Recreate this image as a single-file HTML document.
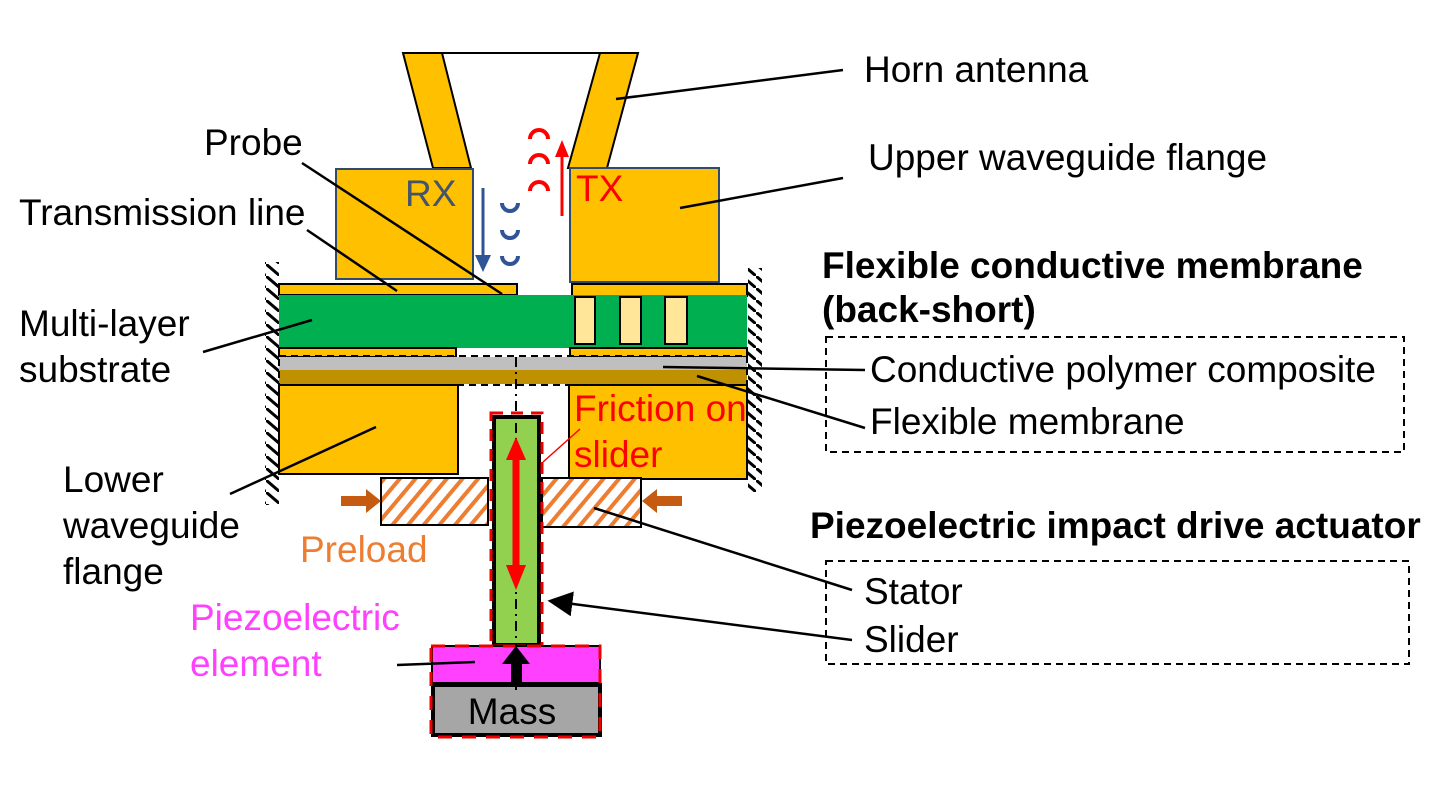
<!DOCTYPE html>
<html><head><meta charset="utf-8"><style>
html,body{margin:0;padding:0;background:#fff}
svg{display:block}
text{font-family:"Liberation Sans",Arial,sans-serif;font-size:37px}
</style></head><body>
<svg width="1440" height="810" viewBox="0 0 1440 810" xmlns="http://www.w3.org/2000/svg">
<defs>
<pattern id="wall" width="14" height="12" patternUnits="userSpaceOnUse">
<line x1="0" y1="0" x2="14" y2="12" stroke="#000" stroke-width="3"/>
</pattern>
<pattern id="hatch" width="12" height="12" patternUnits="userSpaceOnUse" patternTransform="rotate(40)">
<rect width="12" height="12" fill="#fff"/><rect width="4" height="12" fill="#ed7d31"/>
</pattern>
<marker id="ah" markerWidth="10" markerHeight="10" refX="9" refY="5" orient="auto"><path d="M0,0 L10,5 L0,10z" fill="#000"/></marker>
</defs>
<rect x="265" y="262" width="14" height="243" fill="url(#wall)"/>
<rect x="748" y="268" width="14" height="224" fill="url(#wall)"/>
<line x1="442" y1="53" x2="600" y2="53" stroke="#000" stroke-width="2"/>
<polygon points="403,53 442,53 471,168 433,168" fill="#ffc000" stroke="#000" stroke-width="2"/>
<polygon points="600,53 638,53 607,168 568,168" fill="#ffc000" stroke="#000" stroke-width="2"/>
<rect x="336" y="169" width="137" height="110" fill="#ffc000" stroke="#2f4a6d" stroke-width="2"/>
<rect x="570" y="168" width="149" height="114" fill="#ffc000" stroke="#2f4a6d" stroke-width="2"/>
<rect x="279" y="284" width="238" height="11" fill="#ffc000" stroke="#000" stroke-width="2"/>
<rect x="572" y="284" width="175" height="12" fill="#ffc000" stroke="#000" stroke-width="2"/>
<rect x="279" y="295" width="468" height="53" fill="#00b050"/>
<rect x="575" y="297" width="20" height="47" fill="#ffe699" stroke="#000" stroke-width="2"/>
<rect x="620" y="297" width="21" height="47" fill="#ffe699" stroke="#000" stroke-width="2"/>
<rect x="665" y="297" width="22" height="47" fill="#ffe699" stroke="#000" stroke-width="2"/>
<rect x="279" y="348" width="177" height="9" fill="#ffc000" stroke="#000" stroke-width="2"/>
<rect x="570" y="348" width="177" height="9" fill="#ffc000" stroke="#000" stroke-width="2"/>
<rect x="279" y="357" width="468" height="13" fill="#bfbfbf"/>
<rect x="279" y="370" width="468" height="14" fill="#bf9000"/>
<rect x="279" y="356" width="468" height="29" fill="none" stroke="#000" stroke-width="2" stroke-dasharray="7,5"/>
<rect x="279" y="385" width="179" height="89" fill="#ffc000" stroke="#000" stroke-width="2"/>
<rect x="569" y="385" width="178" height="94" fill="#ffc000" stroke="#000" stroke-width="2"/>
<rect x="381" y="478" width="107" height="47" fill="url(#hatch)" stroke="#000" stroke-width="2"/>
<rect x="542" y="478" width="99" height="49" fill="url(#hatch)" stroke="#000" stroke-width="2"/>
<polygon points="341,496 366,496 366,489 381,501 366,513 366,506 341,506" fill="#c55a11"/>
<polygon points="682,496 657,496 657,489 642,501 657,513 657,506 682,506" fill="#c55a11"/>
<rect x="494" y="417" width="45" height="228" fill="#92d050" stroke="#000" stroke-width="4"/>
<rect x="491" y="413" width="51" height="233" fill="none" stroke="#e00" stroke-width="3" stroke-dasharray="12,8"/>
<rect x="432" y="646" width="168" height="37" fill="#ff40ff" stroke="#000" stroke-width="2"/>
<rect x="433" y="685" width="167" height="50" fill="#a6a6a6" stroke="#000" stroke-width="4"/>
<path d="M431,646 H600 V737 H431 Z" fill="none" stroke="#e00" stroke-width="3" stroke-dasharray="14,10"/>
<line x1="516" y1="357" x2="516" y2="690" stroke="#000" stroke-width="2" stroke-dasharray="10,5,2,5"/>
<line x1="516" y1="455" x2="516" y2="575" stroke="#f00" stroke-width="7"/>
<polygon points="516,437 526,460 506,460" fill="#f00"/>
<polygon points="516,590 526,565 506,565" fill="#f00"/>
<rect x="511" y="662" width="11" height="22" fill="#000"/>
<polygon points="516,646 530,664 502,664" fill="#000"/>
<line x1="483" y1="188" x2="483" y2="256" stroke="#2f5597" stroke-width="3"/>
<polygon points="475,255 491,255 483,272" fill="#2f5597"/>
<line x1="562" y1="216" x2="562" y2="155" stroke="#f00" stroke-width="3"/>
<polygon points="555,157 569,157 562,140" fill="#f00"/>
<g fill="none" stroke="#2f5597" stroke-width="4">
<path d="M502,203 a8,8 0 0 0 16,0"/><path d="M502,230 a8,8 0 0 0 16,0"/><path d="M502,256 a8,8 0 0 0 16,0"/>
</g>
<g fill="none" stroke="#f00" stroke-width="4">
<path d="M530,139 a9,9 0 0 1 18,0"/><path d="M530,164 a9,9 0 0 1 18,0"/><path d="M530,191 a9,9 0 0 1 18,0"/>
</g>
<text x="405" y="206" fill="#44546a" font-size="39">RX</text>
<text x="576" y="201" fill="#f00" font-size="39">TX</text>
<g stroke="#000" stroke-width="2.5" fill="none">
<line x1="302" y1="163" x2="502" y2="294"/>
<line x1="307" y1="230" x2="397" y2="291"/>
<line x1="203" y1="352" x2="312" y2="320"/>
<line x1="230" y1="494" x2="376" y2="427"/>
<line x1="843" y1="70" x2="616" y2="99"/>
<line x1="843" y1="178" x2="680" y2="208"/>
<line x1="865" y1="370" x2="663" y2="367"/>
<line x1="865" y1="428" x2="697" y2="376"/>
<line x1="852" y1="590" x2="594" y2="508"/>
<line x1="852" y1="640" x2="550" y2="601" marker-end="url(#ah)"/>
<line x1="397" y1="665" x2="475" y2="662"/>
</g>
<line x1="580" y1="429" x2="543" y2="462" stroke="#f00" stroke-width="1.5"/>
<rect x="826" y="337" width="578" height="115" fill="none" stroke="#000" stroke-width="2" stroke-dasharray="7,5"/>
<rect x="826" y="561" width="583" height="103" fill="none" stroke="#000" stroke-width="2" stroke-dasharray="7,5"/>
<text x="864" y="82">Horn antenna</text>
<text x="868" y="170">Upper waveguide flange</text>
<text x="822" y="278" font-weight="bold" font-size="36">Flexible conductive membrane</text>
<text x="822" y="322" font-weight="bold" font-size="36">(back-short)</text>
<text x="870" y="382">Conductive polymer composite</text>
<text x="870" y="434">Flexible membrane</text>
<text x="810" y="538" font-weight="bold" font-size="36">Piezoelectric impact drive actuator</text>
<text x="864" y="604">Stator</text>
<text x="864" y="652">Slider</text>
<text x="204" y="155">Probe</text>
<text x="19" y="225">Transmission line</text>
<text x="19" y="336">Multi-layer</text>
<text x="19" y="382">substrate</text>
<text x="63" y="492">Lower</text>
<text x="63" y="538">waveguide</text>
<text x="63" y="584">flange</text>
<text x="300" y="562" fill="#ed7d31">Preload</text>
<text x="190" y="630" fill="#ff40ff">Piezoelectric</text>
<text x="190" y="676" fill="#ff40ff">element</text>
<text x="574" y="421" fill="#f00">Friction on</text>
<text x="574" y="467" fill="#f00">slider</text>
<text x="512" y="724" text-anchor="middle">Mass</text>
</svg>
</body></html>
